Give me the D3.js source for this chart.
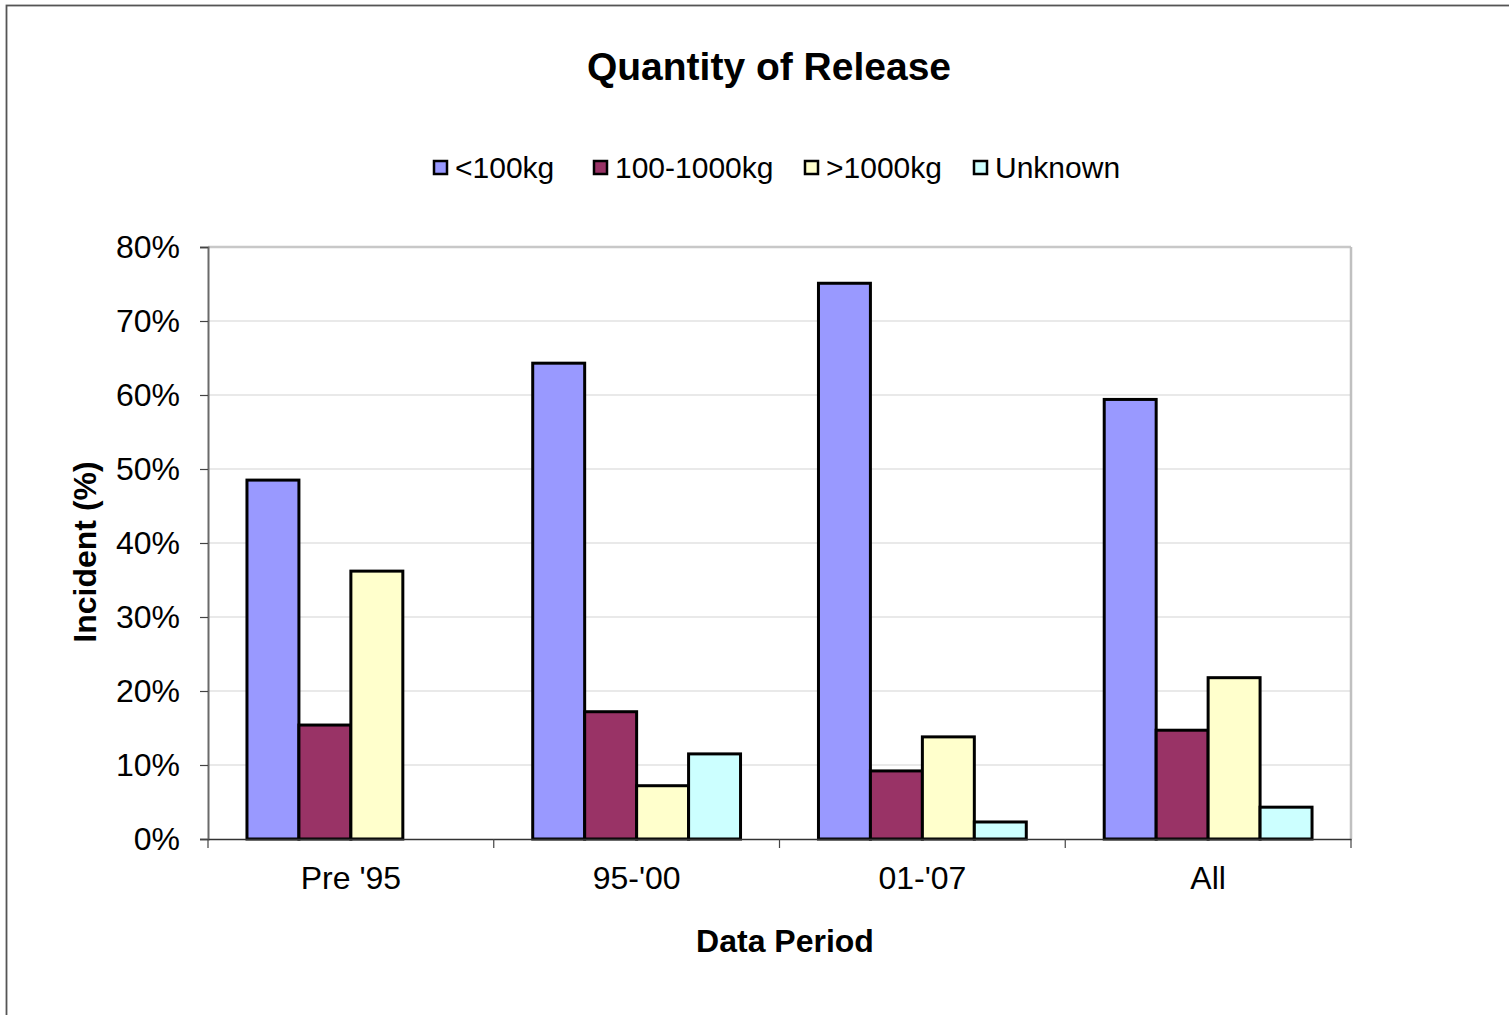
<!DOCTYPE html>
<html>
<head>
<meta charset="utf-8">
<script src="https://cdn.jsdelivr.net/npm/d3@7/dist/d3.min.js"></script>
<style>
  html, body { margin: 0; padding: 0; background: #fff; }
  svg { display: block; font-family: "Liberation Sans", Arial, sans-serif; }
</style>
</head>
<body>
<svg id="chart" width="1509" height="1015"></svg>
<script>
const categories = ["Pre '95", "95-'00", "01-'07", "All"];
const seriesNames = ["<100kg", "100-1000kg", ">1000kg", "Unknown"];
const seriesColors = ["#9999FF", "#993366", "#FFFFCC", "#CCFFFF"];
const lt100 = [48.5, 64.3, 75.1, 59.4];
const mid100to1000 = [15.4, 17.2, 9.2, 14.7];
const gt1000 = [36.2, 7.2, 13.8, 21.8];
const unknown = [null, 11.5, 2.3, 4.3];
const yTicks = [0, 10, 20, 30, 40, 50, 60, 70, 80];
const seriesValues = [lt100, mid100to1000, gt1000, unknown];

const svg = d3.select("#chart");
const FONT = "Liberation Sans, Arial, sans-serif";

// outer chart border
svg.append("rect").attr("x", 6.5).attr("y", 5.5).attr("width", 1540).attr("height", 1040)
  .attr("fill", "#fff").attr("stroke", "#555").attr("stroke-width", 1.8);

const pLeft = 208, pRight = 1351, pTop = 247, pBottom = 839;

const x = d3.scaleBand().domain(categories).range([pLeft, pRight]).paddingInner(0).paddingOuter(0);
const bw = x.bandwidth() / 5.5;
const x1 = d3.scaleBand().domain(seriesNames).range([0, bw * 4]).padding(0);
const y = d3.scaleLinear().domain([0, 80]).range([pBottom, pTop]);

// gridlines
svg.append("g").selectAll("line").data(yTicks.filter(d => d > 0)).join("line")
  .attr("x1", pLeft).attr("x2", pRight).attr("y1", d => y(d)).attr("y2", d => y(d))
  .attr("stroke", d => d === 80 ? "#c8c8c8" : "#d4d4d4").attr("stroke-width", d => d === 80 ? 2.5 : 1.2);
// right border of plot
svg.append("line").attr("x1", pRight).attr("x2", pRight).attr("y1", pTop).attr("y2", pBottom)
  .attr("stroke", "#c0c0c0").attr("stroke-width", 2.5);

// bars
const data = [];
categories.forEach((c, i) => seriesNames.forEach((s, j) => {
  if (seriesValues[j][i] != null) data.push({c, s, j, v: seriesValues[j][i]});
}));
svg.append("g").selectAll("rect").data(data).join("rect")
  .attr("x", d => x(d.c) + bw * 0.75 + x1(d.s))
  .attr("y", d => y(d.v))
  .attr("width", x1.bandwidth())
  .attr("height", d => pBottom - y(d.v))
  .attr("fill", d => seriesColors[d.j])
  .attr("stroke", "#000").attr("stroke-width", 3);

// y axis
const yAxis = d3.axisLeft(y).tickValues(yTicks).tickFormat(d => d + "%").tickSize(8).tickPadding(20);
const gy = svg.append("g").attr("transform", `translate(${pLeft},0)`).call(yAxis);
gy.select(".domain").attr("stroke", "#6a6a6a").attr("stroke-width", 2);
gy.selectAll(".tick line").attr("stroke", "#444").attr("stroke-width", 1.2);
gy.selectAll(".tick text").attr("font-size", 32).attr("fill", "#000").style("font-family", FONT);

// x axis
const xAxis = d3.axisBottom(x).tickSize(0).tickPadding(0);
const gx = svg.append("g").attr("transform", `translate(0,${pBottom})`).call(xAxis);
gx.select(".domain").attr("stroke", "#333").attr("stroke-width", 1.5);
gx.selectAll(".tick text").attr("font-size", 32).attr("fill", "#000").attr("dy", 0).attr("y", 50)
  .style("font-family", FONT);
// category boundary ticks
const bounds = categories.map(c => x(c)).concat([pRight]);
svg.append("g").selectAll("line").data(bounds).join("line")
  .attr("x1", d => d).attr("x2", d => d).attr("y1", pBottom).attr("y2", pBottom + 9)
  .attr("stroke", "#444").attr("stroke-width", 1.2);

// titles
svg.append("text").attr("x", 769).attr("y", 80).attr("text-anchor", "middle")
  .attr("font-size", 39).attr("font-weight", "bold").text("Quantity of Release");
svg.append("text").attr("x", 785).attr("y", 952).attr("text-anchor", "middle")
  .attr("font-size", 32).attr("font-weight", "bold").text("Data Period");
svg.append("text").attr("transform", "translate(96,552) rotate(-90)").attr("text-anchor", "middle")
  .attr("font-size", 32).attr("font-weight", "bold").text("Incident (%)");

// legend
const legendX = [434, 594, 805, 974];
const lg = svg.append("g").selectAll("g").data(seriesNames).join("g")
  .attr("transform", (d, i) => `translate(${legendX[i]},0)`);
lg.append("rect").attr("x", 0).attr("y", 161).attr("width", 13).attr("height", 13)
  .attr("fill", (d, i) => seriesColors[i]).attr("stroke", "#000").attr("stroke-width", 2.5);
lg.append("text").attr("x", 21).attr("y", 178).attr("font-size", 30).text(d => d);
</script>
</body>
</html>
